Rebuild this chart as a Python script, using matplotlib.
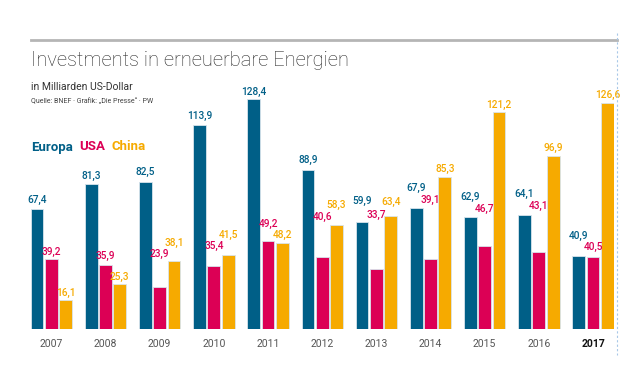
import matplotlib
matplotlib.use('Agg')
import matplotlib.pyplot as plt
import numpy as np

# data (Milliarden US-Dollar)
years = ['2007', '2008', '2009', '2010', '2011', '2012', '2013', '2014', '2015', '2016', '2017']
europa = [67.4, 81.3, 82.5, 113.9, 128.4, 88.9, 59.9, 67.9, 62.9, 64.1, 40.9]
usa = [39.2, 35.9, 23.9, 35.4, 49.2, 40.6, 33.7, 39.1, 46.7, 43.1, 40.5]
china = [16.1, 25.3, 38.1, 41.5, 48.2, 58.3, 63.4, 85.3, 121.2, 96.9, 126.6]

# label lift above bar top, in pixels (labels are staggered in the original)
lift_eu = [9, 7.3, 9.3, 9.7, 7.6, 10, 20.7, 19.3, 20, 20.3, 20.3]
lift_us = [7.6, 8.7, 32.7, 20, 17, 40, 54, 59, 36.7, 45.7, 10.3]
lift_cn = [7.4, 7, 18.3, 20, 8, 20, 14.3, 7.3, 7.3, 8.3, 7.7]

c_eu = '#005f87'
c_us = '#dc0055'
c_cn = '#f6aa00'
fnt = ['Roboto', 'DejaVu Sans']

W, H = 640, 384
fig = plt.figure(figsize=(6.4, 3.84), dpi=100)

# axes: x 30.7..613.7 px, baseline at 329.3 px, top at 40 px
ax = fig.add_axes([30.7 / W, (H - 329.3) / H, 583 / W, 289.3 / H])
ax.set_xlim(-0.381, 10.381)
ax.set_ylim(0, 161.6)
ax.axis('off')

x = np.arange(len(years))
step = 0.264
bw = 0.236
px2pt = 72 / 100

for off, vals, col, lifts in [(-step, europa, c_eu, lift_eu),
                              (0, usa, c_us, lift_us),
                              (step, china, c_cn, lift_cn)]:
    ax.bar(x + off, vals, width=bw, color=col, edgecolor='#d8e4ec', linewidth=0.6)
    for xi, v, lf in zip(x + off, vals, lifts):
        ax.annotate(f'{v:.1f}'.replace('.', ','), (xi, v), xytext=(0, lf * px2pt),
                    textcoords='offset points', ha='center', va='center',
                    fontsize=7.3, color=col, family=fnt, fontweight='medium')

# year labels
for xi, yr in zip(x, years):
    bold = yr == '2017'
    ax.annotate(yr, (xi, 0), xytext=(0, -14.5 * px2pt), textcoords='offset points',
                ha='center', va='center', fontsize=7.5, family=fnt,
                color='#111111' if bold else '#555555',
                fontweight='bold' if bold else 'normal')

# header
fig.add_artist(plt.Line2D([30.7 / W, 617 / W], [(H - 40) / H] * 2,
                          color='#b5b5b5', linewidth=2))
fig.add_artist(plt.Line2D([617 / W] * 2, [(H - 33) / H, (H - 355) / H],
                          color='#a8c8e8', linewidth=0.8, linestyle=(0, (2, 2))))
fig.text(30.7 / W, (H - 61) / H, 'Investments in erneuerbare Energien',
         fontsize=14.5, family=fnt, fontweight='light', color='#2a2a2a',
         va='center', ha='left')
fig.text(30.7 / W, (H - 87) / H, 'in Milliarden US-Dollar',
         fontsize=7.5, family=fnt, color='#333333', va='center', ha='left')
fig.text(30.7 / W, (H - 102) / H, 'Quelle: BNEF · Grafik: „Die Presse“ · PW',
         fontsize=5, family=fnt, color='#444444', va='center', ha='left')

# legend
fig.text(30.7 / W, (H - 147) / H, 'Europa', fontsize=9.5, fontweight='bold',
         family=fnt, color=c_eu, va='center', ha='left')
fig.text(79 / W, (H - 147) / H, 'USA', fontsize=9.5, fontweight='bold',
         family=fnt, color=c_us, va='center', ha='left')
fig.text(112 / W, (H - 147) / H, 'China', fontsize=9.5, fontweight='bold',
         family=fnt, color=c_cn, va='center', ha='left')

fig.savefig('out.png', dpi=100)
